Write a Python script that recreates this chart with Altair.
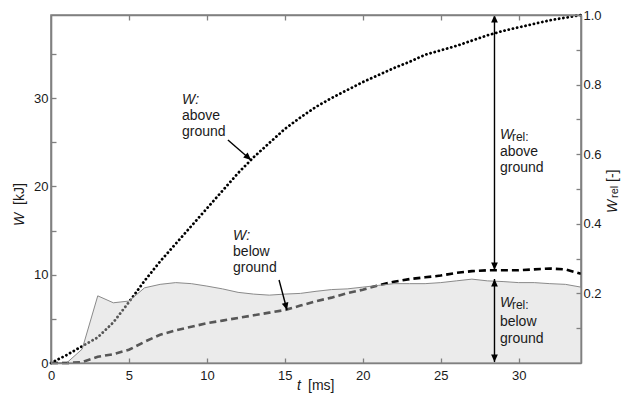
import altair as alt
import pandas as pd

# ---------------- data ----------------
t_ms = list(range(0, 35))
w_above_kj = [0, 0.9, 1.9, 2.9, 4.6, 6.9, 9.3, 11.5, 13.5, 15.5, 17.5, 19.5, 21.5, 23.3, 24.9,
              26.5, 27.8, 29.0, 30.0, 30.9, 31.8, 32.6, 33.4, 34.1, 34.9, 35.4, 35.9, 36.5,
              37.1, 37.6, 38.0, 38.4, 38.8, 39.1, 39.4]
w_below_kj = [0, 0, 0.1, 0.7, 1.0, 1.5, 2.4, 3.2, 3.7, 4.1, 4.5, 4.8, 5.1, 5.4, 5.7, 6.0, 6.5,
              7.0, 7.4, 7.9, 8.3, 8.8, 9.2, 9.5, 9.7, 9.9, 10.2, 10.4, 10.5, 10.5, 10.5, 10.6,
              10.7, 10.6, 10.1]
wrel_below = [0, 0, 0.04, 0.193, 0.173, 0.178, 0.216, 0.226, 0.231, 0.228, 0.221, 0.213, 0.203,
              0.198, 0.195, 0.198, 0.2, 0.206, 0.211, 0.213, 0.218, 0.223, 0.228, 0.228, 0.228,
              0.231, 0.236, 0.241, 0.236, 0.234, 0.231, 0.231, 0.228, 0.226, 0.218]

x_ticks = [0, 5, 10, 15, 20, 25, 30]
x_top_ticks = [5, 10, 15, 20, 25, 30]
w_ticks = [0, 5, 10, 15, 20, 25, 30, 35]
rel_ticks = [0.1, 0.2, 0.3, 0.4, 0.5, 0.6, 0.7, 0.8, 0.9, 1.0]

# annotations (data coordinates: t in ms, W in kJ)
ann_plain_text = ["above", "ground", "below", "ground", "above", "ground", "below", "ground"]
ann_plain_t = [8.40, 8.40, 11.68, 11.68, 28.80, 28.80, 28.80, 28.80]
ann_plain_w = [27.96, 26.15, 12.57, 10.76, 23.89, 22.08, 4.64, 2.72]
ann_ital_text = ["W:", "W:", "W", "W"]
ann_ital_t = [8.40, 11.68, 28.80, 28.80]
ann_ital_w = [29.78, 14.38, 25.81, 6.79]
ann_sub_text = ["rel:", "rel:"]
ann_sub_t = [28.80, 28.80]
ann_sub_w = [25.81, 6.79]

# arrows: start -> tip
arr_t0 = [11.35, 14.63, 28.45, 28.45]
arr_w0 = [25.25, 9.40, 10.53, 0.10]
arr_t1 = [12.83, 15.14, 28.45, 28.45]
arr_w1 = [22.98, 6.00, 39.40, 9.51]
# arrow heads (tip position, direction angle)
head_t = [12.83, 15.14, 28.45, 28.45, 28.45, 28.45]
head_w = [22.98, 6.00, 39.40, 10.53, 9.51, 0.10]
head_ang = [132, 165, 0, 180, 0, 180]

X_DOMAIN = [0, 34]
W_DOMAIN = [0, 39.4]
REL_DOMAIN = [0, 1]

FONT = "Liberation Sans"
GRAY = "#808080"
INK = "#1a1a1a"
ARROW_PATH = "M0,0L-0.45,1L0.45,1Z"

df = pd.DataFrame({"t": t_ms, "above": w_above_kj, "below": w_below_kj, "rel": wrel_below})
plain_df = pd.DataFrame({"t": ann_plain_t, "w": ann_plain_w, "label": ann_plain_text})
ital_df = pd.DataFrame({"t": ann_ital_t, "w": ann_ital_w, "label": ann_ital_text})
sub_df = pd.DataFrame({"t": ann_sub_t, "w": ann_sub_w, "label": ann_sub_text})
arr_df = pd.DataFrame({"t0": arr_t0, "w0": arr_w0, "t1": arr_t1, "w1": arr_w1})
head_df = pd.DataFrame({"t": head_t, "w": head_w, "ang": head_ang})
one = pd.DataFrame({"k": [0]})

xs = alt.Scale(domain=X_DOMAIN, nice=False, zero=False)
ws = alt.Scale(domain=W_DOMAIN, nice=False, zero=False)
rs = alt.Scale(domain=REL_DOMAIN, nice=False, zero=False)
IN_TICK = {"expr": "-5"}

x_bottom = alt.X("t:Q", scale=xs, axis=alt.Axis(
    orient="bottom", values=x_ticks, title=None, tickSize=IN_TICK, labelPadding=11,
    labelFlush=False, labelOverlap=False, zindex=1))
x_top = alt.X("t:Q", scale=xs, axis=alt.Axis(
    orient="top", values=x_top_ticks, title=None, tickSize=IN_TICK, labels=False, zindex=1))
x_none = alt.X("t:Q", scale=xs, axis=None)

left_axis = alt.Axis(orient="left", values=w_ticks, title=None, tickSize=IN_TICK,
                     labelPadding=8, labelOverlap=False, zindex=1,
                     labelExpr="datum.value % 10 == 0 ? datum.label : ''")
right_axis = alt.Axis(orient="right", values=rel_ticks, title=None, tickSize=IN_TICK,
                      labelPadding=7, labelOverlap=False, zindex=1, format=".1f",
                      labelExpr="round(datum.value * 10) % 2 == 0 ? datum.label : ''")

dotted = alt.Chart(df).mark_line(
    color="black", strokeWidth=2.8, strokeDash=[0.1, 4.2], strokeCap="round"
).encode(x=x_bottom, y=alt.Y("above:Q", scale=ws, axis=left_axis))

dashed = alt.Chart(df).mark_line(
    color="black", strokeWidth=2.6, strokeDash=[7, 4]
).encode(x=x_none, y=alt.Y("below:Q", scale=ws, axis=None))

area = alt.Chart(df).mark_area(color="#cfcfcf", opacity=0.42).encode(
    x=x_top, y=alt.Y("rel:Q", scale=rs, axis=right_axis))

outline = alt.Chart(df).mark_line(color="#8a8a8a", strokeWidth=1).encode(
    x=x_none, y=alt.Y("rel:Q", scale=rs, axis=None))

arrows = alt.Chart(arr_df).mark_rule(color="black", strokeWidth=1.4).encode(
    x=alt.X("t0:Q", scale=xs, axis=None), y=alt.Y("w0:Q", scale=ws, axis=None),
    x2="t1:Q", y2="w1:Q")

heads = alt.Chart(head_df).mark_point(
    shape=ARROW_PATH, filled=True, color="black", opacity=1, size=225, strokeWidth=0
).encode(x=alt.X("t:Q", scale=xs, axis=None), y=alt.Y("w:Q", scale=ws, axis=None),
         angle=alt.Angle("ang:Q", scale=None))

txt_kw = dict(font=FONT, color=INK, align="left", baseline="middle")
plain = alt.Chart(plain_df).mark_text(fontSize=14, **txt_kw).encode(
    x=alt.X("t:Q", scale=xs, axis=None), y=alt.Y("w:Q", scale=ws, axis=None), text="label:N")
ital = alt.Chart(ital_df).mark_text(fontSize=14, fontStyle="italic", **txt_kw).encode(
    x=alt.X("t:Q", scale=xs, axis=None), y=alt.Y("w:Q", scale=ws, axis=None), text="label:N")
sub = alt.Chart(sub_df).mark_text(fontSize=12, dx=12, dy=2, **txt_kw).encode(
    x=alt.X("t:Q", scale=xs, axis=None), y=alt.Y("w:Q", scale=ws, axis=None), text="label:N")


def title_part(text, x, y, size=14, italic=False, angle=0, baseline="alphabetic"):
    kw = dict(text=text, font=FONT, fontSize=size, color=INK, align="left", baseline=baseline)
    if italic:
        kw["fontStyle"] = "italic"
    if angle:
        kw["angle"] = angle
    return alt.Chart(one).mark_text(**kw).encode(x=alt.value(x), y=alt.value(y))


titles = [
    title_part("W", -31, 211, italic=True, angle=270, baseline="middle"),
    title_part("[kJ]", -31, 190, angle=270, baseline="middle"),
    title_part("t", 246, 375, italic=True),
    title_part("[ms]", 257, 375),
    title_part("W", 562, 198, italic=True, angle=270, baseline="middle"),
    title_part("rel", 564, 183, size=11, angle=270, baseline="middle"),
    title_part("[-]", 562, 167, angle=270, baseline="middle"),
]

chart = alt.layer(
    dotted, dashed, area, outline, arrows, heads, plain, ital, sub, *titles
).resolve_scale(y="independent").resolve_axis(x="independent", y="independent").properties(
    width=530, height=348,
    padding={"left": 51, "top": 15, "right": 40, "bottom": 33},
    autosize=alt.AutoSizeParams(type="none"),
).configure_view(stroke=GRAY, strokeWidth=1.6).configure_axis(
    domainColor=GRAY, domainWidth=1.6, tickColor=GRAY, tickWidth=1.3,
    labelFont=FONT, labelFontSize=13, labelColor=INK, grid=False
)

chart.save("out.html", embed_options={"renderer": "svg", "actions": False})
